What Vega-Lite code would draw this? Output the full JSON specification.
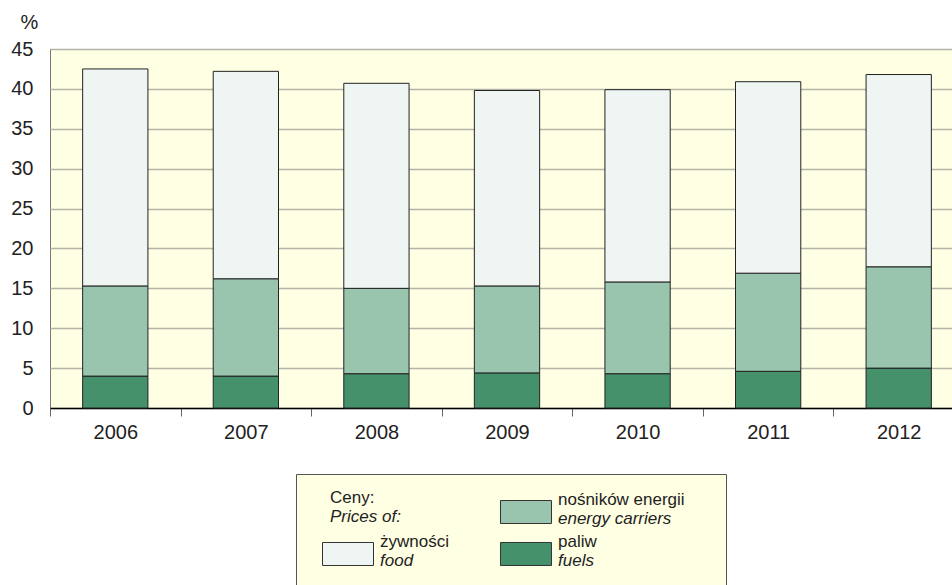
{
  "$schema": "https://vega.github.io/schema/vega-lite/v6.json",
  "padding": {"left": 10, "top": 11, "right": 0, "bottom": 0},
  "background": "#FFFFFF",
  "spacing": 30,
  "config": {"font": "Liberation Sans"},
  "vconcat": [
    {
      "width": 914,
      "height": 359,
      "view": {"fill": "#FFFFE3", "stroke": "#777777", "strokeWidth": 1},
      "data": {"values": [
        {"year": "2006", "series": "fuels", "level": 1, "value": 4.0},
        {"year": "2006", "series": "energy", "level": 2, "value": 11.3},
        {"year": "2006", "series": "food", "level": 3, "value": 27.2},
        {"year": "2007", "series": "fuels", "level": 1, "value": 4.0},
        {"year": "2007", "series": "energy", "level": 2, "value": 12.2},
        {"year": "2007", "series": "food", "level": 3, "value": 26.0},
        {"year": "2008", "series": "fuels", "level": 1, "value": 4.3},
        {"year": "2008", "series": "energy", "level": 2, "value": 10.7},
        {"year": "2008", "series": "food", "level": 3, "value": 25.7},
        {"year": "2009", "series": "fuels", "level": 1, "value": 4.4},
        {"year": "2009", "series": "energy", "level": 2, "value": 10.9},
        {"year": "2009", "series": "food", "level": 3, "value": 24.5},
        {"year": "2010", "series": "fuels", "level": 1, "value": 4.3},
        {"year": "2010", "series": "energy", "level": 2, "value": 11.5},
        {"year": "2010", "series": "food", "level": 3, "value": 24.1},
        {"year": "2011", "series": "fuels", "level": 1, "value": 4.6},
        {"year": "2011", "series": "energy", "level": 2, "value": 12.3},
        {"year": "2011", "series": "food", "level": 3, "value": 24.0},
        {"year": "2012", "series": "fuels", "level": 1, "value": 5.0},
        {"year": "2012", "series": "energy", "level": 2, "value": 12.7},
        {"year": "2012", "series": "food", "level": 3, "value": 24.1}
      ]},
      "mark": {"type": "bar", "stroke": "#222222", "strokeWidth": 1, "width": {"band": 0.5}},
      "encoding": {
        "x": {
          "field": "year", "type": "ordinal",
          "scale": {"paddingInner": 0, "paddingOuter": 0},
          "axis": {"title": null, "labelAngle": 0, "labelFontSize": 20, "labelColor": "#222222", "labelPadding": 6, "tickBand": "extent", "tickSize": 8, "tickColor": "#666666", "domainColor": "#000000", "domainWidth": 1.5, "grid": false}
        },
        "y": {
          "field": "value", "type": "quantitative", "stack": "zero",
          "scale": {"domain": [0, 45], "nice": false},
          "axis": {"values": [0, 5, 10, 15, 20, 25, 30, 35, 40, 45], "title": "%", "titleAngle": 0, "titleX": -21, "titleY": -21, "titleAlign": "center", "titleBaseline": "alphabetic", "titleFontSize": 20, "titleFontWeight": "normal", "titleColor": "#222222", "labelFontSize": 20, "labelColor": "#222222", "labelPadding": 17, "ticks": false, "tickSize": 0, "domain": false, "grid": true, "gridColor": "#B4B4AA", "gridWidth": 1.5}
        },
        "order": {"field": "level", "type": "quantitative", "sort": "ascending"},
        "color": {
          "field": "series", "type": "nominal",
          "scale": {"domain": ["food", "energy", "fuels"], "range": ["#EFF5F2", "#99C5AE", "#45916B"]},
          "legend": null
        }
      }
    },
    {
      "spacing": 0,
      "hconcat": [
        {
          "width": 245,
          "height": 10,
          "view": {"stroke": null, "fill": null},
          "data": {"values": [{}]},
          "mark": {"type": "point", "opacity": 0},
          "encoding": {}
        },
        {
          "width": 430,
          "height": 118,
          "view": {"fill": "#FFFFE3", "stroke": "#555555", "strokeWidth": 1},
          "data": {"values": [
            {"key": "title", "col": "L", "row": "1", "pl": "Ceny:", "en": "Prices of:"},
            {"key": "energy", "col": "R", "row": "1", "pl": "nośników energii", "en": "energy carriers"},
            {"key": "food", "col": "L", "row": "2", "pl": "żywności", "en": "food"},
            {"key": "fuels", "col": "R", "row": "2", "pl": "paliw", "en": "fuels"}
          ]},
          "encoding": {
            "x": {"field": "col", "type": "nominal", "scale": {"type": "point", "padding": 0.7079}, "axis": null},
            "y": {"field": "row", "type": "nominal", "scale": {"type": "point", "padding": 0.905}, "axis": null}
          },
          "layer": [
            {
              "transform": [{"filter": "datum.key != 'title'"}],
              "mark": {"type": "rect", "width": 51, "height": 23, "stroke": "#333333", "strokeWidth": 1, "xOffset": -74},
              "encoding": {
                "color": {"field": "key", "type": "nominal", "scale": {"domain": ["food", "energy", "fuels"], "range": ["#EFF5F2", "#99C5AE", "#45916B"]}, "legend": null}
              }
            },
            {
              "transform": [{"filter": "datum.key != 'title'"}],
              "mark": {"type": "text", "align": "left", "baseline": "alphabetic", "fontSize": 17, "color": "#222222", "dx": -42, "dy": -7},
              "encoding": {"text": {"field": "pl"}}
            },
            {
              "transform": [{"filter": "datum.key != 'title'"}],
              "mark": {"type": "text", "align": "left", "baseline": "alphabetic", "fontSize": 17, "fontStyle": "italic", "color": "#222222", "dx": -42, "dy": 12},
              "encoding": {"text": {"field": "en"}}
            },
            {
              "transform": [{"filter": "datum.key == 'title'"}],
              "mark": {"type": "text", "align": "left", "baseline": "alphabetic", "fontSize": 17, "color": "#222222", "dx": -92, "dy": -9},
              "encoding": {"text": {"field": "pl"}}
            },
            {
              "transform": [{"filter": "datum.key == 'title'"}],
              "mark": {"type": "text", "align": "left", "baseline": "alphabetic", "fontSize": 17, "fontStyle": "italic", "color": "#222222", "dx": -92, "dy": 10},
              "encoding": {"text": {"field": "en"}}
            }
          ]
        }
      ]
    }
  ]
}
